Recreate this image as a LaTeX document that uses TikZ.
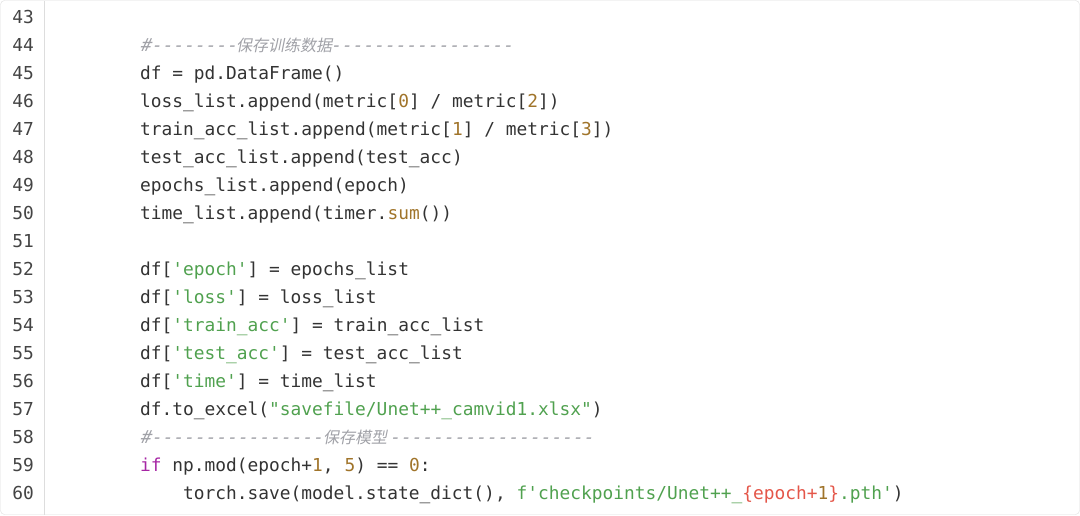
\documentclass[tikz,border=0pt]{standalone}
\usepackage{fontspec}
\setmonofont{DejaVu Sans Mono}
\newfontfamily\cjk[FakeSlant=0.2]{Noto Sans CJK SC}
\newfontfamily\cmtmono[FakeSlant=0.2]{DejaVu Sans Mono}
\definecolor{codefg}{HTML}{333333}
\definecolor{numfg}{HTML}{A0742A}
\definecolor{strfg}{HTML}{50A14F}
\definecolor{kwfg}{HTML}{A626A4}
\definecolor{cmtfg}{HTML}{A0A1A7}
\definecolor{redfg}{HTML}{E45649}
\definecolor{linefg}{HTML}{444444}
\definecolor{framefg}{HTML}{DDDDDD}
\newcommand{\Nm}[1]{\textcolor{numfg}{#1}}
\newcommand{\St}[1]{\textcolor{strfg}{#1}}
\newcommand{\Kw}[1]{\textcolor{kwfg}{#1}}
\newcommand{\Rd}[1]{\textcolor{redfg}{#1}}
\begin{document}
\begin{tikzpicture}[x=1pt,y=-1pt,
  code/.style={anchor=base west,inner sep=0pt,font=\fontsize{17.86}{20}\ttfamily,text=codefg},
  cmt/.style={anchor=base west,inner sep=0pt,font=\fontsize{17.86}{20}\cmtmono,text=cmtfg},
  cmtzh/.style={anchor=base west,inner sep=0pt,font=\fontsize{16}{20}\cjk,text=cmtfg},
  lnum/.style={anchor=base east,inner sep=0pt,font=\fontsize{17.86}{20}\ttfamily,text=linefg}]
\useasboundingbox (0,0) rectangle (1080,515);
\draw[framefg,rounded corners=4pt] (0.5,0.5) rectangle (1079.5,514.5);
\draw[framefg] (44,0.5) -- (44,514.5);
\foreach \n [count=\i from 0] in {43,...,60}
  \node[lnum] (ln\n) at (34,{17+28*\i+6.5}) {\n};
\def\B#1{{17+28*(#1-43)+6.5}}
\node[cmt] (c44a) at (140,\B{44}) {\#--------};
\node[cmtzh] (c44b) at (236,\B{44}) {保存训练数据};
\node[cmt] (c44c) at (330,\B{44}) {-----------------};
\node[code] (l45) at (140,\B{45}) {df = pd.DataFrame()};
\node[code] (l46) at (140,\B{46}) {loss\_list.append(metric[\Nm{0}] / metric[\Nm{2}])};
\node[code] (l47) at (140,\B{47}) {train\_acc\_list.append(metric[\Nm{1}] / metric[\Nm{3}])};
\node[code] (l48) at (140,\B{48}) {test\_acc\_list.append(test\_acc)};
\node[code] (l49) at (140,\B{49}) {epochs\_list.append(epoch)};
\node[code] (l50) at (140,\B{50}) {time\_list.append(timer.\Nm{sum}())};
\node[code] (l52) at (140,\B{52}) {df[\St{'epoch'}] = epochs\_list};
\node[code] (l53) at (140,\B{53}) {df[\St{'loss'}] = loss\_list};
\node[code] (l54) at (140,\B{54}) {df[\St{'train\_acc'}] = train\_acc\_list};
\node[code] (l55) at (140,\B{55}) {df[\St{'test\_acc'}] = test\_acc\_list};
\node[code] (l56) at (140,\B{56}) {df[\St{'time'}] = time\_list};
\node[code] (l57) at (140,\B{57}) {df.to\_excel(\St{"savefile/Unet++\_camvid1.xlsx"})};
\node[cmt] (c58a) at (140,\B{58}) {\#----------------};
\node[cmtzh] (c58b) at (323,\B{58}) {保存模型};
\node[cmt] (c58c) at (389,\B{58}) {-------------------};
\node[code] (l59) at (140,\B{59}) {\Kw{if} np.mod(epoch+\Nm{1}, \Nm{5}) == \Nm{0}:};
\node[code] (l60) at (183,\B{60}) {torch.save(model.state\_dict(), \St{f'checkpoints/Unet++\_}\Rd{\{epoch+}\Nm{1}\Rd{\}}\St{.pth'})};
\end{tikzpicture}
\end{document}
